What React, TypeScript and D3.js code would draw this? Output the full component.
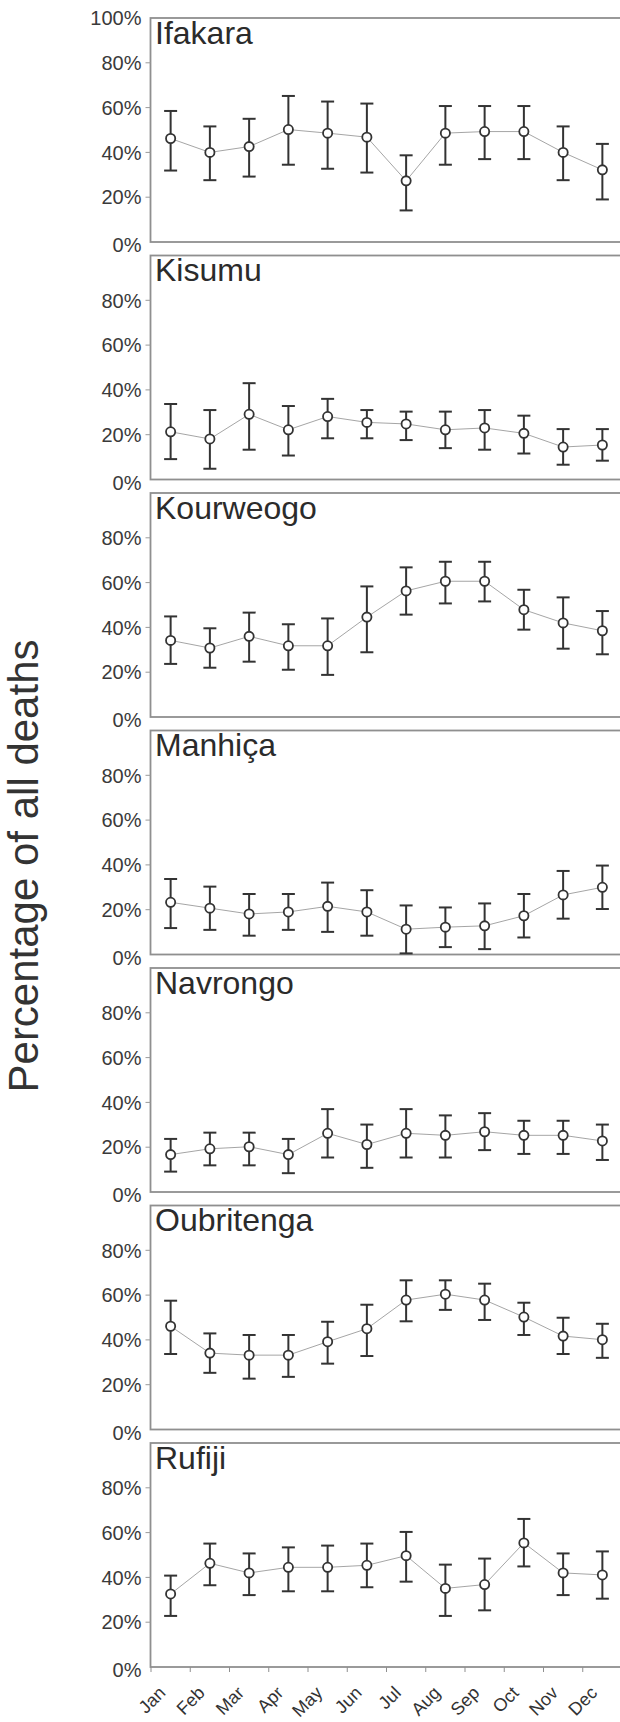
import * as d3 from 'd3';

const WIDTH = 620;
const HEIGHT = 1722;

const MONTHS = ['Jan', 'Feb', 'Mar', 'Apr', 'May', 'Jun', 'Jul', 'Aug', 'Sep', 'Oct', 'Nov', 'Dec'];
const SITES = ['Ifakara', 'Kisumu', 'Kourweogo', 'Manhiça', 'Navrongo', 'Oubritenga', 'Rufiji'];
const Y_TICKS = [0, 20, 40, 60, 80, 100];

// % of all deaths, with lower / upper bounds
const IFAKARA_MEAN = [46.2, 40.0, 42.6, 50.2, 48.6, 46.8, 27.3, 48.6, 49.3, 49.3, 40.0, 32.2];
const IFAKARA_LO = [31.9, 27.6, 29.2, 34.5, 32.7, 31.0, 14.1, 34.5, 37.0, 37.0, 27.6, 19.0];
const IFAKARA_HI = [58.5, 51.6, 55.0, 65.2, 62.7, 61.8, 38.7, 60.7, 60.7, 60.7, 51.6, 43.8];

const KISUMU_MEAN = [21.3, 18.1, 29.1, 22.2, 28.1, 25.5, 24.8, 22.2, 23.0, 20.6, 14.5, 15.4];
const KISUMU_LO = [9.1, 4.8, 13.3, 10.7, 18.4, 18.4, 17.6, 14.0, 13.3, 11.6, 6.6, 8.4];
const KISUMU_HI = [33.7, 31.0, 43.0, 32.8, 36.0, 31.0, 30.3, 30.3, 31.0, 28.5, 22.5, 22.5];

const KOURWEOGO_MEAN = [34.2, 30.8, 36.0, 31.8, 31.8, 44.6, 56.3, 60.6, 60.6, 47.9, 42.0, 38.5];
const KOURWEOGO_LO = [23.7, 22.0, 24.7, 21.1, 18.8, 28.9, 45.7, 50.7, 51.6, 39.0, 30.5, 28.0];
const KOURWEOGO_HI = [44.9, 39.6, 46.6, 41.4, 44.0, 58.3, 66.8, 69.3, 69.3, 56.8, 53.4, 47.3];

const MANHICA_MEAN = [23.3, 20.7, 18.1, 19.0, 21.5, 19.0, 11.3, 12.2, 12.8, 17.3, 26.6, 30.0];
const MANHICA_LO = [11.8, 11.0, 8.4, 11.0, 10.1, 8.4, 0.5, 3.3, 2.4, 7.6, 16.0, 20.3];
const MANHICA_HI = [33.7, 30.3, 27.0, 27.0, 32.1, 28.7, 21.9, 21.0, 22.8, 27.0, 37.3, 39.7];

const NAVRONGO_MEAN = [16.7, 19.3, 20.2, 16.7, 26.2, 21.2, 26.2, 25.3, 26.9, 25.3, 25.3, 22.8];
const NAVRONGO_LO = [9.1, 11.9, 11.9, 8.4, 15.4, 10.8, 15.4, 15.4, 18.7, 17.0, 17.0, 14.3];
const NAVRONGO_HI = [23.7, 26.5, 26.5, 23.7, 37.0, 30.1, 37.0, 34.2, 35.2, 31.8, 31.8, 30.1];

const OUBRITENGA_MEAN = [46.1, 34.1, 33.2, 33.2, 39.2, 45.0, 57.8, 60.4, 57.8, 50.2, 41.7, 40.1];
const OUBRITENGA_LO = [33.7, 25.3, 22.7, 23.5, 29.4, 32.8, 48.3, 53.4, 48.9, 42.2, 33.7, 32.0];
const OUBRITENGA_HI = [57.5, 42.9, 42.2, 42.2, 48.1, 55.7, 66.6, 66.6, 65.1, 56.6, 49.9, 47.2];

const RUFIJI_MEAN = [32.6, 46.3, 42.0, 44.5, 44.5, 45.4, 49.7, 35.1, 36.8, 55.4, 42.0, 41.1];
const RUFIJI_LO = [22.8, 36.5, 32.1, 33.8, 33.8, 35.6, 38.1, 22.8, 25.3, 44.9, 32.1, 30.5];
const RUFIJI_HI = [40.8, 55.1, 50.7, 53.4, 54.2, 55.1, 60.3, 45.7, 48.4, 66.1, 50.7, 51.6];

const MEANS = [IFAKARA_MEAN, KISUMU_MEAN, KOURWEOGO_MEAN, MANHICA_MEAN, NAVRONGO_MEAN, OUBRITENGA_MEAN, RUFIJI_MEAN];
const LOWS = [IFAKARA_LO, KISUMU_LO, KOURWEOGO_LO, MANHICA_LO, NAVRONGO_LO, OUBRITENGA_LO, RUFIJI_LO];
const HIGHS = [IFAKARA_HI, KISUMU_HI, KOURWEOGO_HI, MANHICA_HI, NAVRONGO_HI, OUBRITENGA_HI, RUFIJI_HI];

const FONT = '"Liberation Sans", Arial, Helvetica, sans-serif';
const PANEL_TOP = 18;
const PANEL_STEP = 237.5;
const PANEL_H = 224;
const AXIS_X = 150.5;

const xScale = d3
  .scaleBand<string>()
  .domain(MONTHS)
  .range([AXIS_X + 0.5, AXIS_X + 0.5 + 12 * 39.25]);

const Panel = ({ index }: { index: number }) => {
  const top = PANEL_TOP + index * PANEL_STEP;
  const bottom = top + PANEL_H;
  const yScale = d3.scaleLinear().domain([0, 100]).range([bottom, top]);
  const mean = MEANS[index];
  const lo = LOWS[index];
  const hi = HIGHS[index];
  const cx = (m: string) => xScale(m)! + xScale.bandwidth() / 2;

  const line = d3
    .line<number>()
    .x((_, i) => cx(MONTHS[i]))
    .y((d) => yScale(d));

  const ticks = index === 0 ? Y_TICKS : Y_TICKS.filter((t) => t < 100);
  const isLast = index === SITES.length - 1;

  return (
    <g>
      {/* frame */}
      <rect
        x={AXIS_X}
        y={top}
        width={WIDTH - AXIS_X + 10}
        height={PANEL_H}
        fill="#fff"
        stroke="#8f8f8f"
        strokeWidth={1.8}
      />
      {/* y ticks */}
      {ticks.map((t) => (
        <g key={t}>
          {t > 0 && t < 100 && (
            <line x1={AXIS_X - 5} x2={AXIS_X} y1={yScale(t)} y2={yScale(t)} stroke="#9a9a9a" strokeWidth={1} />
          )}
          <text
            x={141.5}
            y={yScale(t) + (t === 0 ? 3 : 0)}
            dy="0.36em"
            textAnchor="end"
            fontFamily={FONT}
            fontSize={20}
            fill="#3a3a3a"
          >
            {`${t}%`}
          </text>
        </g>
      ))}
      <text x={AXIS_X + 4.5} y={top + 25.5} fontFamily={FONT} fontSize={32} fill="#2b2b2b">
        {SITES[index]}
      </text>
      <path d={line(mean) ?? ''} fill="none" stroke="#9b9b9b" strokeWidth={0.9} />
      {MONTHS.map((m, i) => {
        const x = cx(m);
        return (
          <g key={m} stroke="#333" strokeWidth={2}>
            <line x1={x} x2={x} y1={yScale(lo[i])} y2={yScale(hi[i])} />
            <line x1={x - 6.5} x2={x + 6.5} y1={yScale(hi[i])} y2={yScale(hi[i])} />
            <line x1={x - 6.5} x2={x + 6.5} y1={yScale(lo[i])} y2={yScale(lo[i])} />
          </g>
        );
      })}
      {MONTHS.map((m, i) => (
        <circle
          key={m}
          cx={cx(m)}
          cy={yScale(mean[i])}
          r={4.6}
          fill="#fff"
          stroke="#333"
          strokeWidth={1.8}
        />
      ))}
      {isLast && (
        <g>
          {MONTHS.map((m) => (
            <line
              key={m}
              x1={xScale(m)!}
              x2={xScale(m)!}
              y1={bottom}
              y2={bottom + 5}
              stroke="#8f8f8f"
              strokeWidth={1}
            />
          ))}
          {MONTHS.map((m) => (
            <text
              key={m}
              transform={`translate(${cx(m) - 4},${bottom + 27}) rotate(-45)`}
              textAnchor="end"
              fontFamily={FONT}
              fontSize={18}
              fill="#333"
            >
              {m}
            </text>
          ))}
        </g>
      )}
    </g>
  );
};

export default function App() {
  return (
    <svg
      width={WIDTH}
      height={HEIGHT}
      style={{ position: 'absolute', left: 0, top: 0, background: '#fff' }}
    >
      <rect width={WIDTH} height={HEIGHT} fill="#fff" />
      {SITES.map((s, i) => (
        <Panel key={s} index={i} />
      ))}
      <text
        transform="translate(38,866) rotate(-90)"
        textAnchor="middle"
        fontFamily={FONT}
        fontSize={42}
        fill="#333"
      >
        Percentage of all deaths
      </text>
    </svg>
  );
}
